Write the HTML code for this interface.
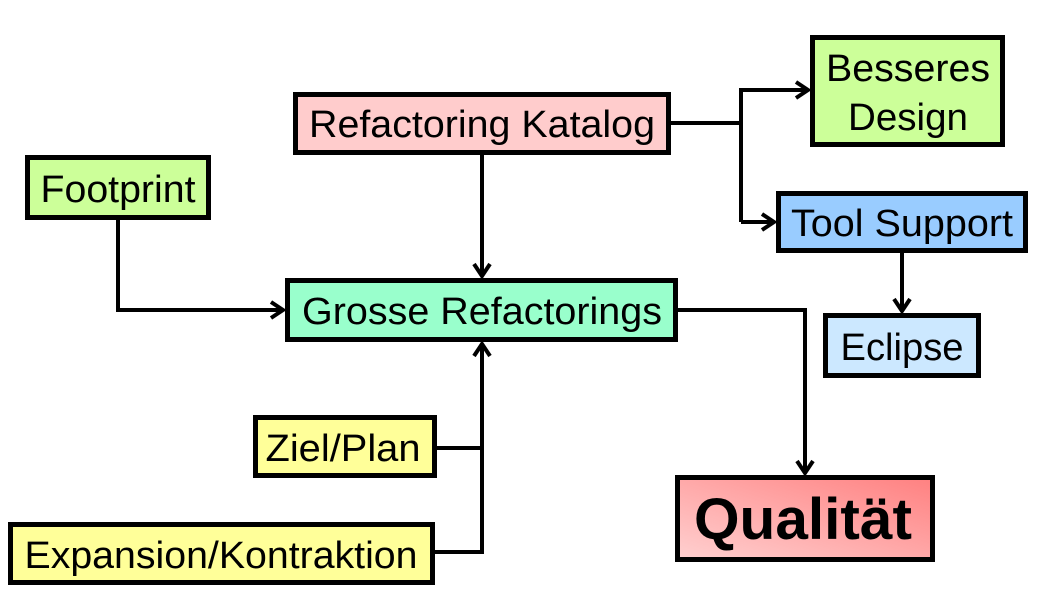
<!DOCTYPE html>
<html><head><meta charset="utf-8"><style>
html,body{margin:0;padding:0;background:#fff;width:1051px;height:603px;overflow:hidden}
text{font-family:"Liberation Sans",Arial,sans-serif;fill:#000}
</style></head><body>
<svg width="1051" height="603" viewBox="0 0 1051 603" xmlns="http://www.w3.org/2000/svg">
<defs>
<linearGradient id="q" x1="0" y1="1" x2="1" y2="0">
<stop offset="0" stop-color="#ffd0d0"/><stop offset="1" stop-color="#ff8080"/>
</linearGradient>
</defs>
<g fill="none" stroke="#000" stroke-width="4" stroke-linejoin="miter">
<polyline points="671,123 741,123"/>
<polyline points="741,222 741,90 808,90"/>
<polyline points="741,222 774,222"/>
<polyline points="482,155 482,276"/>
<polyline points="118,220 118,310 283,310"/>
<polyline points="435,552 482,552 482,344"/>
<polyline points="437,448 482,448"/>
<polyline points="678,310 805,310 805,473"/>
<polyline points="902,253 902,311"/>
</g>
<g fill="none" stroke="#000" stroke-width="4">
<polyline points="796,82 808,90 796,98"/>
<polyline points="762,214 774,222 762,230"/>
<polyline points="474,264 482,276 490,264"/>
<polyline points="271,302 283,310 271,318"/>
<polyline points="474,356 482,344 490,356"/>
<polyline points="797,461 805,473 813,461"/>
<polyline points="894,299 902,311 910,299"/>
</g>
<g stroke="#000" stroke-width="5">
<rect x="295.5" y="94.5" width="373" height="58" fill="#ffcccc"/>
<rect x="812.5" y="37.5" width="190" height="107" fill="#ccff99"/>
<rect x="27.5" y="157.5" width="181" height="60" fill="#ccff99"/>
<rect x="778.5" y="193.5" width="247" height="57" fill="#99ccff"/>
<rect x="287.5" y="280.5" width="388" height="59" fill="#99ffcc"/>
<rect x="825.5" y="315.5" width="153" height="60" fill="#cce8ff"/>
<rect x="255.5" y="417.5" width="179" height="58" fill="#ffff99"/>
<rect x="10.5" y="524.5" width="422" height="58" fill="#ffff99"/>
<rect x="677.5" y="477.5" width="255" height="82" fill="url(#q)"/>
</g>
<g font-size="38" lengthAdjust="spacingAndGlyphs">
<text x="482" y="137" text-anchor="middle" textLength="346" lengthAdjust="spacingAndGlyphs">Refactoring Katalog</text>
<text x="908" y="81" text-anchor="middle" textLength="164" lengthAdjust="spacingAndGlyphs">Besseres</text>
<text x="908" y="130" text-anchor="middle" textLength="120" lengthAdjust="spacingAndGlyphs">Design</text>
<text x="118" y="202" text-anchor="middle" textLength="155" lengthAdjust="spacingAndGlyphs">Footprint</text>
<text x="902" y="236" text-anchor="middle" textLength="222" lengthAdjust="spacingAndGlyphs">Tool Support</text>
<text x="482" y="324" text-anchor="middle" textLength="360" lengthAdjust="spacingAndGlyphs">Grosse Refactorings</text>
<text x="902" y="360" text-anchor="middle" textLength="123" lengthAdjust="spacingAndGlyphs">Eclipse</text>
<text x="343" y="461" text-anchor="middle" textLength="155" lengthAdjust="spacingAndGlyphs">Ziel/Plan</text>
<text x="221" y="568" text-anchor="middle" textLength="393" lengthAdjust="spacingAndGlyphs">Expansion/Kontraktion</text>
</g>
<text x="803" y="539" text-anchor="middle" font-size="58" font-weight="bold" textLength="218" lengthAdjust="spacingAndGlyphs">Qualität</text>
</svg>
</body></html>
